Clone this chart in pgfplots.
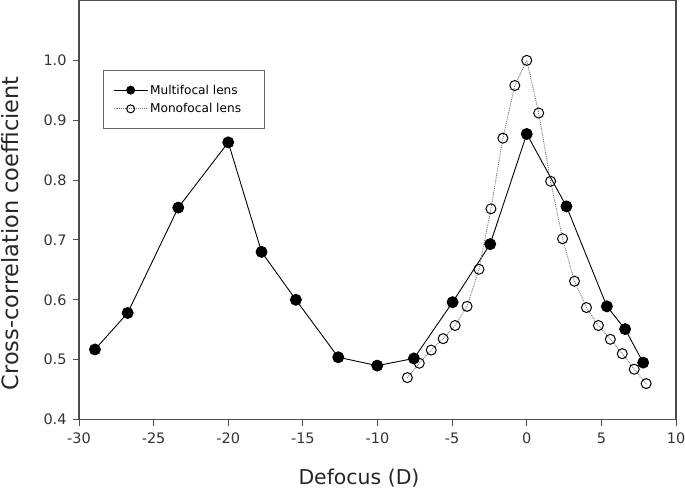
\documentclass[border=0pt]{standalone}
\usepackage{pgfplots}
\pgfplotsset{compat=1.18}
\usepackage{fontspec}
\setmainfont{DejaVu Sans}
\begin{document}
\begin{tikzpicture}
\begin{axis}[
  name=ax,
  scale only axis, width=597bp, height=419bp,
  xmin=-30, xmax=10, ymin=0.4, ymax=1.1,
  xtick={-30,-25,-20,-15,-10,-5,0,5,10},
  ytick={0.4,0.5,0.6,0.7,0.8,0.9,1.0},
  yticklabel style={/pgf/number format/.cd,fixed,fixed zerofill,precision=1,/tikz/.cd, xshift=-3bp},
  xticklabel style={yshift=-4bp},
  /pgf/number format/assume math mode=true,
  tick label style={font=\fontsize{14.5}{17}\selectfont, black!80},
  tick align=outside, xtick pos=bottom, ytick pos=left,
  major tick length=6bp,
  every tick/.style={draw=black!70, line width=0.9pt},
  axis line style={draw=black!70, line width=1.1pt},
  xlabel={Defocus (D)},
  ylabel={Cross-correlation coefficient},
  xlabel style={font=\fontsize{20.5}{24}\selectfont, black!85, at={(axis description cs:0.469,-0.1396)}, anchor=center},
  ylabel style={font=\fontsize{22.5}{26}\selectfont, black!85, at={(axis description cs:-0.1156,0.444)}, anchor=center},
  legend style={at={(rel axis cs:0.040,0.833)}, anchor=north west,
    draw=black!60, line width=0.6pt, font=\fontsize{12.2}{15}\selectfont,
    inner xsep=10bp, inner ysep=12bp, row sep=4bp},
  legend cell align=left,
  legend image code/.code={\draw[mark repeat=2,mark phase=2,#1,mark size=4bp] plot coordinates {(0cm,0cm) (0.6cm,0cm) (1.2cm,0cm)};},
]
\addplot[black, line width=0.9pt, mark=*, mark size=5.5bp, mark options={solid, fill=black}] coordinates {
(-28.93,0.517) (-26.74,0.578) (-23.35,0.754) (-20.0,0.863) (-17.77,0.680)
(-15.47,0.600) (-12.63,0.504) (-10.02,0.490) (-7.56,0.502) (-4.97,0.596)
(-2.45,0.693) (0.0,0.877) (2.66,0.756) (5.37,0.589) (6.59,0.551) (7.8,0.495)
};
\addlegendentry{Multifocal lens\rule{11bp}{0pt}}
\addplot[black!55, densely dotted, line width=0.9pt, mark=o, mark size=5bp, mark options={solid, draw=black, fill=white, line width=1pt}] coordinates {
(-8.0,0.470) (-7.2,0.494) (-6.4,0.516) (-5.6,0.535) (-4.8,0.557) (-4.0,0.589)
(-3.2,0.651) (-2.4,0.752) (-1.6,0.870) (-0.8,0.958) (0.0,1.000) (0.8,0.912)
(1.6,0.798) (2.4,0.702) (3.2,0.631) (4.0,0.587) (4.8,0.557) (5.6,0.534)
(6.4,0.510) (7.2,0.484) (8.0,0.460)
};
\addlegendentry{Monofocal lens\rule{11bp}{0pt}}
\end{axis}
\pgfresetboundingbox
\path ([shift={(-79bp,-69bp)}]ax.south west) rectangle ([shift={(9bp,0.5bp)}]ax.north east);
\end{tikzpicture}
\end{document}
